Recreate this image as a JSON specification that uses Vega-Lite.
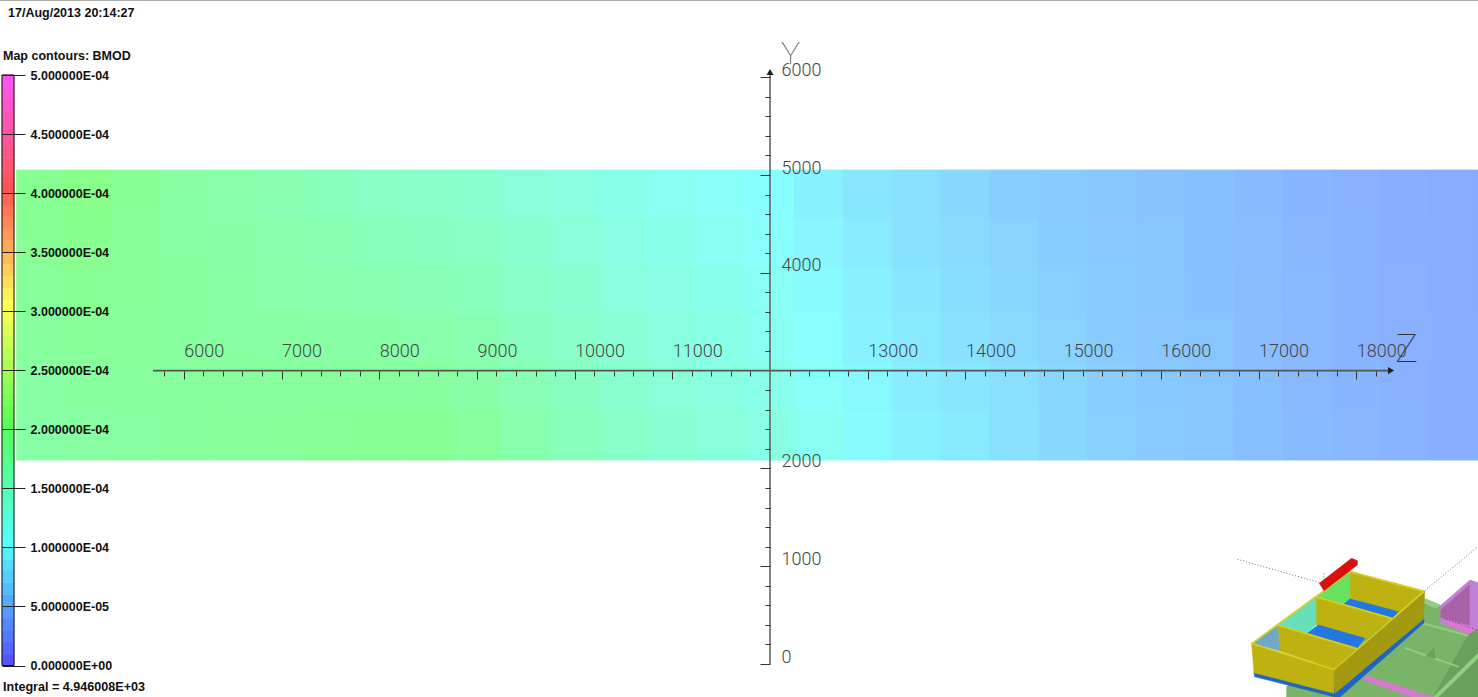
{"$schema":"https://vega.github.io/schema/vega-lite/v6.json","width":1478,"height":697,"padding":0,"autosize":{"type":"none"},"background":"white","config":{"view":{"stroke":null}},
"datasets":{"field":[
{"z":4290,"z2":4750,"y":5050,"y2":4557,"b":1.92e-4},{"z":4290,"z2":4750,"y":4557,"y2":4064,"b":1.89e-4},{"z":4290,"z2":4750,"y":4064,"y2":3571,"b":1.85e-4},{"z":4290,"z2":4750,"y":3571,"y2":3078,"b":1.82e-4},{"z":4290,"z2":4750,"y":3078,"y2":2585,"b":1.78e-4},{"z":4290,"z2":4750,"y":2585,"y2":2086,"b":1.75e-4},
{"z":4750,"z2":5250,"y":5050,"y2":4557,"b":1.98e-4},{"z":4750,"z2":5250,"y":4557,"y2":4064,"b":1.94e-4},{"z":4750,"z2":5250,"y":4064,"y2":3571,"b":1.90e-4},{"z":4750,"z2":5250,"y":3571,"y2":3078,"b":1.86e-4},{"z":4750,"z2":5250,"y":3078,"y2":2585,"b":1.82e-4},{"z":4750,"z2":5250,"y":2585,"y2":2086,"b":1.78e-4},
{"z":5250,"z2":5750,"y":5050,"y2":4557,"b":1.90e-4},{"z":5250,"z2":5750,"y":4557,"y2":4064,"b":1.88e-4},{"z":5250,"z2":5750,"y":4064,"y2":3571,"b":1.86e-4},{"z":5250,"z2":5750,"y":3571,"y2":3078,"b":1.84e-4},{"z":5250,"z2":5750,"y":3078,"y2":2585,"b":1.82e-4},{"z":5250,"z2":5750,"y":2585,"y2":2086,"b":1.80e-4},
{"z":5750,"z2":6250,"y":5050,"y2":4557,"b":1.80e-4},{"z":5750,"z2":6250,"y":4557,"y2":4064,"b":1.80e-4},{"z":5750,"z2":6250,"y":4064,"y2":3571,"b":1.81e-4},{"z":5750,"z2":6250,"y":3571,"y2":3078,"b":1.81e-4},{"z":5750,"z2":6250,"y":3078,"y2":2585,"b":1.82e-4},{"z":5750,"z2":6250,"y":2585,"y2":2086,"b":1.82e-4},
{"z":6250,"z2":6750,"y":5050,"y2":4557,"b":1.72e-4},{"z":6250,"z2":6750,"y":4557,"y2":4064,"b":1.74e-4},{"z":6250,"z2":6750,"y":4064,"y2":3571,"b":1.77e-4},{"z":6250,"z2":6750,"y":3571,"y2":3078,"b":1.79e-4},{"z":6250,"z2":6750,"y":3078,"y2":2585,"b":1.82e-4},{"z":6250,"z2":6750,"y":2585,"y2":2086,"b":1.84e-4},
{"z":6750,"z2":7250,"y":5050,"y2":4557,"b":1.65e-4},{"z":6750,"z2":7250,"y":4557,"y2":4064,"b":1.69e-4},{"z":6750,"z2":7250,"y":4064,"y2":3571,"b":1.73e-4},{"z":6750,"z2":7250,"y":3571,"y2":3078,"b":1.78e-4},{"z":6750,"z2":7250,"y":3078,"y2":2585,"b":1.82e-4},{"z":6750,"z2":7250,"y":2585,"y2":2086,"b":1.86e-4},
{"z":7250,"z2":7750,"y":5050,"y2":4557,"b":1.58e-4},{"z":7250,"z2":7750,"y":4557,"y2":4064,"b":1.64e-4},{"z":7250,"z2":7750,"y":4064,"y2":3571,"b":1.70e-4},{"z":7250,"z2":7750,"y":3571,"y2":3078,"b":1.76e-4},{"z":7250,"z2":7750,"y":3078,"y2":2585,"b":1.82e-4},{"z":7250,"z2":7750,"y":2585,"y2":2086,"b":1.88e-4},
{"z":7750,"z2":8250,"y":5050,"y2":4557,"b":1.50e-4},{"z":7750,"z2":8250,"y":4557,"y2":4064,"b":1.58e-4},{"z":7750,"z2":8250,"y":4064,"y2":3571,"b":1.66e-4},{"z":7750,"z2":8250,"y":3571,"y2":3078,"b":1.74e-4},{"z":7750,"z2":8250,"y":3078,"y2":2585,"b":1.82e-4},{"z":7750,"z2":8250,"y":2585,"y2":2086,"b":1.90e-4},
{"z":8250,"z2":8750,"y":5050,"y2":4557,"b":1.45e-4},{"z":8250,"z2":8750,"y":4557,"y2":4064,"b":1.54e-4},{"z":8250,"z2":8750,"y":4064,"y2":3571,"b":1.63e-4},{"z":8250,"z2":8750,"y":3571,"y2":3078,"b":1.72e-4},{"z":8250,"z2":8750,"y":3078,"y2":2585,"b":1.81e-4},{"z":8250,"z2":8750,"y":2585,"y2":2086,"b":1.90e-4},
{"z":8750,"z2":9250,"y":5050,"y2":4557,"b":1.40e-4},{"z":8750,"z2":9250,"y":4557,"y2":4064,"b":1.49e-4},{"z":8750,"z2":9250,"y":4064,"y2":3571,"b":1.57e-4},{"z":8750,"z2":9250,"y":3571,"y2":3078,"b":1.66e-4},{"z":8750,"z2":9250,"y":3078,"y2":2585,"b":1.74e-4},{"z":8750,"z2":9250,"y":2585,"y2":2086,"b":1.83e-4},
{"z":9250,"z2":9750,"y":5050,"y2":4557,"b":1.33e-4},{"z":9250,"z2":9750,"y":4557,"y2":4064,"b":1.40e-4},{"z":9250,"z2":9750,"y":4064,"y2":3571,"b":1.48e-4},{"z":9250,"z2":9750,"y":3571,"y2":3078,"b":1.55e-4},{"z":9250,"z2":9750,"y":3078,"y2":2585,"b":1.63e-4},{"z":9250,"z2":9750,"y":2585,"y2":2086,"b":1.70e-4},
{"z":9750,"z2":10250,"y":5050,"y2":4557,"b":1.27e-4},{"z":9750,"z2":10250,"y":4557,"y2":4064,"b":1.33e-4},{"z":9750,"z2":10250,"y":4064,"y2":3571,"b":1.39e-4},{"z":9750,"z2":10250,"y":3571,"y2":3078,"b":1.46e-4},{"z":9750,"z2":10250,"y":3078,"y2":2585,"b":1.52e-4},{"z":9750,"z2":10250,"y":2585,"y2":2086,"b":1.58e-4},
{"z":10250,"z2":10750,"y":5050,"y2":4557,"b":1.17e-4},{"z":10250,"z2":10750,"y":4557,"y2":4064,"b":1.23e-4},{"z":10250,"z2":10750,"y":4064,"y2":3571,"b":1.29e-4},{"z":10250,"z2":10750,"y":3571,"y2":3078,"b":1.35e-4},{"z":10250,"z2":10750,"y":3078,"y2":2585,"b":1.41e-4},{"z":10250,"z2":10750,"y":2585,"y2":2086,"b":1.47e-4},
{"z":10750,"z2":11250,"y":5050,"y2":4557,"b":1.12e-4},{"z":10750,"z2":11250,"y":4557,"y2":4064,"b":1.17e-4},{"z":10750,"z2":11250,"y":4064,"y2":3571,"b":1.22e-4},{"z":10750,"z2":11250,"y":3571,"y2":3078,"b":1.28e-4},{"z":10750,"z2":11250,"y":3078,"y2":2585,"b":1.33e-4},{"z":10750,"z2":11250,"y":2585,"y2":2086,"b":1.38e-4},
{"z":11250,"z2":11750,"y":5050,"y2":4557,"b":1.06e-4},{"z":11250,"z2":11750,"y":4557,"y2":4064,"b":1.11e-4},{"z":11250,"z2":11750,"y":4064,"y2":3571,"b":1.16e-4},{"z":11250,"z2":11750,"y":3571,"y2":3078,"b":1.20e-4},{"z":11250,"z2":11750,"y":3078,"y2":2585,"b":1.25e-4},{"z":11250,"z2":11750,"y":2585,"y2":2086,"b":1.30e-4},
{"z":11750,"z2":12250,"y":5050,"y2":4557,"b":1.00e-4},{"z":11750,"z2":12250,"y":4557,"y2":4064,"b":1.04e-4},{"z":11750,"z2":12250,"y":4064,"y2":3571,"b":1.09e-4},{"z":11750,"z2":12250,"y":3571,"y2":3078,"b":1.13e-4},{"z":11750,"z2":12250,"y":3078,"y2":2585,"b":1.18e-4},{"z":11750,"z2":12250,"y":2585,"y2":2086,"b":1.22e-4},
{"z":12250,"z2":12750,"y":5050,"y2":4557,"b":0.88e-4},{"z":12250,"z2":12750,"y":4557,"y2":4064,"b":0.92e-4},{"z":12250,"z2":12750,"y":4064,"y2":3571,"b":0.97e-4},{"z":12250,"z2":12750,"y":3571,"y2":3078,"b":1.01e-4},{"z":12250,"z2":12750,"y":3078,"y2":2585,"b":1.06e-4},{"z":12250,"z2":12750,"y":2585,"y2":2086,"b":1.10e-4},
{"z":12750,"z2":13250,"y":5050,"y2":4557,"b":0.80e-4},{"z":12750,"z2":13250,"y":4557,"y2":4064,"b":0.83e-4},{"z":12750,"z2":13250,"y":4064,"y2":3571,"b":0.87e-4},{"z":12750,"z2":13250,"y":3571,"y2":3078,"b":0.90e-4},{"z":12750,"z2":13250,"y":3078,"y2":2585,"b":0.94e-4},{"z":12750,"z2":13250,"y":2585,"y2":2086,"b":0.97e-4},
{"z":13250,"z2":13750,"y":5050,"y2":4557,"b":0.73e-4},{"z":13250,"z2":13750,"y":4557,"y2":4064,"b":0.76e-4},{"z":13250,"z2":13750,"y":4064,"y2":3571,"b":0.79e-4},{"z":13250,"z2":13750,"y":3571,"y2":3078,"b":0.82e-4},{"z":13250,"z2":13750,"y":3078,"y2":2585,"b":0.85e-4},{"z":13250,"z2":13750,"y":2585,"y2":2086,"b":0.88e-4},
{"z":13750,"z2":14250,"y":5050,"y2":4557,"b":0.66e-4},{"z":13750,"z2":14250,"y":4557,"y2":4064,"b":0.69e-4},{"z":13750,"z2":14250,"y":4064,"y2":3571,"b":0.72e-4},{"z":13750,"z2":14250,"y":3571,"y2":3078,"b":0.76e-4},{"z":13750,"z2":14250,"y":3078,"y2":2585,"b":0.79e-4},{"z":13750,"z2":14250,"y":2585,"y2":2086,"b":0.82e-4},
{"z":14250,"z2":14750,"y":5050,"y2":4557,"b":0.60e-4},{"z":14250,"z2":14750,"y":4557,"y2":4064,"b":0.63e-4},{"z":14250,"z2":14750,"y":4064,"y2":3571,"b":0.66e-4},{"z":14250,"z2":14750,"y":3571,"y2":3078,"b":0.70e-4},{"z":14250,"z2":14750,"y":3078,"y2":2585,"b":0.73e-4},{"z":14250,"z2":14750,"y":2585,"y2":2086,"b":0.76e-4},
{"z":14750,"z2":15250,"y":5050,"y2":4557,"b":0.56e-4},{"z":14750,"z2":15250,"y":4557,"y2":4064,"b":0.58e-4},{"z":14750,"z2":15250,"y":4064,"y2":3571,"b":0.61e-4},{"z":14750,"z2":15250,"y":3571,"y2":3078,"b":0.63e-4},{"z":14750,"z2":15250,"y":3078,"y2":2585,"b":0.66e-4},{"z":14750,"z2":15250,"y":2585,"y2":2086,"b":0.68e-4},
{"z":15250,"z2":15750,"y":5050,"y2":4557,"b":0.52e-4},{"z":15250,"z2":15750,"y":4557,"y2":4064,"b":0.54e-4},{"z":15250,"z2":15750,"y":4064,"y2":3571,"b":0.56e-4},{"z":15250,"z2":15750,"y":3571,"y2":3078,"b":0.57e-4},{"z":15250,"z2":15750,"y":3078,"y2":2585,"b":0.59e-4},{"z":15250,"z2":15750,"y":2585,"y2":2086,"b":0.61e-4},
{"z":15750,"z2":16250,"y":5050,"y2":4557,"b":0.49e-4},{"z":15750,"z2":16250,"y":4557,"y2":4064,"b":0.50e-4},{"z":15750,"z2":16250,"y":4064,"y2":3571,"b":0.52e-4},{"z":15750,"z2":16250,"y":3571,"y2":3078,"b":0.53e-4},{"z":15750,"z2":16250,"y":3078,"y2":2585,"b":0.55e-4},{"z":15750,"z2":16250,"y":2585,"y2":2086,"b":0.56e-4},
{"z":16250,"z2":16750,"y":5050,"y2":4557,"b":0.46e-4},{"z":16250,"z2":16750,"y":4557,"y2":4064,"b":0.47e-4},{"z":16250,"z2":16750,"y":4064,"y2":3571,"b":0.48e-4},{"z":16250,"z2":16750,"y":3571,"y2":3078,"b":0.50e-4},{"z":16250,"z2":16750,"y":3078,"y2":2585,"b":0.51e-4},{"z":16250,"z2":16750,"y":2585,"y2":2086,"b":0.52e-4},
{"z":16750,"z2":17250,"y":5050,"y2":4557,"b":0.42e-4},{"z":16750,"z2":17250,"y":4557,"y2":4064,"b":0.43e-4},{"z":16750,"z2":17250,"y":4064,"y2":3571,"b":0.44e-4},{"z":16750,"z2":17250,"y":3571,"y2":3078,"b":0.45e-4},{"z":16750,"z2":17250,"y":3078,"y2":2585,"b":0.46e-4},{"z":16750,"z2":17250,"y":2585,"y2":2086,"b":0.47e-4},
{"z":17250,"z2":17750,"y":5050,"y2":4557,"b":0.38e-4},{"z":17250,"z2":17750,"y":4557,"y2":4064,"b":0.39e-4},{"z":17250,"z2":17750,"y":4064,"y2":3571,"b":0.40e-4},{"z":17250,"z2":17750,"y":3571,"y2":3078,"b":0.40e-4},{"z":17250,"z2":17750,"y":3078,"y2":2585,"b":0.41e-4},{"z":17250,"z2":17750,"y":2585,"y2":2086,"b":0.42e-4},
{"z":17750,"z2":18250,"y":5050,"y2":4557,"b":0.35e-4},{"z":17750,"z2":18250,"y":4557,"y2":4064,"b":0.36e-4},{"z":17750,"z2":18250,"y":4064,"y2":3571,"b":0.37e-4},{"z":17750,"z2":18250,"y":3571,"y2":3078,"b":0.37e-4},{"z":17750,"z2":18250,"y":3078,"y2":2585,"b":0.38e-4},{"z":17750,"z2":18250,"y":2585,"y2":2086,"b":0.39e-4},
{"z":18250,"z2":18750,"y":5050,"y2":4557,"b":0.32e-4},{"z":18250,"z2":18750,"y":4557,"y2":4064,"b":0.33e-4},{"z":18250,"z2":18750,"y":4064,"y2":3571,"b":0.34e-4},{"z":18250,"z2":18750,"y":3571,"y2":3078,"b":0.34e-4},{"z":18250,"z2":18750,"y":3078,"y2":2585,"b":0.35e-4},{"z":18250,"z2":18750,"y":2585,"y2":2086,"b":0.36e-4},
{"z":18750,"z2":19250,"y":5050,"y2":4557,"b":0.30e-4},{"z":18750,"z2":19250,"y":4557,"y2":4064,"b":0.31e-4},{"z":18750,"z2":19250,"y":4064,"y2":3571,"b":0.31e-4},{"z":18750,"z2":19250,"y":3571,"y2":3078,"b":0.32e-4},{"z":18750,"z2":19250,"y":3078,"y2":2585,"b":0.32e-4},{"z":18750,"z2":19250,"y":2585,"y2":2086,"b":0.33e-4}
],
"strips":[
{"b":0e-5,"b2":1e-5},{"b":1e-5,"b2":2e-5},{"b":2e-5,"b2":3e-5},{"b":3e-5,"b2":4e-5},{"b":4e-5,"b2":5e-5},{"b":5e-5,"b2":6e-5},{"b":6e-5,"b2":7e-5},{"b":7e-5,"b2":8e-5},{"b":8e-5,"b2":9e-5},{"b":9e-5,"b2":10e-5},
{"b":10e-5,"b2":11e-5},{"b":11e-5,"b2":12e-5},{"b":12e-5,"b2":13e-5},{"b":13e-5,"b2":14e-5},{"b":14e-5,"b2":15e-5},{"b":15e-5,"b2":16e-5},{"b":16e-5,"b2":17e-5},{"b":17e-5,"b2":18e-5},{"b":18e-5,"b2":19e-5},{"b":19e-5,"b2":20e-5},
{"b":20e-5,"b2":21e-5},{"b":21e-5,"b2":22e-5},{"b":22e-5,"b2":23e-5},{"b":23e-5,"b2":24e-5},{"b":24e-5,"b2":25e-5},{"b":25e-5,"b2":26e-5},{"b":26e-5,"b2":27e-5},{"b":27e-5,"b2":28e-5},{"b":28e-5,"b2":29e-5},{"b":29e-5,"b2":30e-5},
{"b":30e-5,"b2":31e-5},{"b":31e-5,"b2":32e-5},{"b":32e-5,"b2":33e-5},{"b":33e-5,"b2":34e-5},{"b":34e-5,"b2":35e-5},{"b":35e-5,"b2":36e-5},{"b":36e-5,"b2":37e-5},{"b":37e-5,"b2":38e-5},{"b":38e-5,"b2":39e-5},{"b":39e-5,"b2":40e-5},
{"b":40e-5,"b2":41e-5},{"b":41e-5,"b2":42e-5},{"b":42e-5,"b2":43e-5},{"b":43e-5,"b2":44e-5},{"b":44e-5,"b2":45e-5},{"b":45e-5,"b2":46e-5},{"b":46e-5,"b2":47e-5},{"b":47e-5,"b2":48e-5},{"b":48e-5,"b2":49e-5},{"b":49e-5,"b2":50e-5}
],
"thumb":[
{"f":"A","k":"pink","x":660,"y":228},{"f":"A","k":"pink","x":750,"y":150},{"f":"A","k":"pink","x":774,"y":158},{"f":"A","k":"pink","x":774,"y":300},{"f":"A","k":"pink","x":745,"y":315},{"f":"A","k":"pink","x":660,"y":280},{"f":"A","k":"pink","x":660,"y":228},
{"f":"B","k":"purple","x":662,"y":240},{"f":"B","k":"purple","x":748,"y":165},{"f":"B","k":"purple","x":748,"y":285},{"f":"B","k":"purple","x":700,"y":275},{"f":"B","k":"purple","x":662,"y":262},{"f":"B","k":"purple","x":662,"y":240},
{"f":"B2","k":"pinkfloor","x":680,"y":268},{"f":"B2","k":"pinkfloor","x":748,"y":290},{"f":"B2","k":"pinkfloor","x":774,"y":296},{"f":"B2","k":"pinkfloor","x":745,"y":315},{"f":"B2","k":"pinkfloor","x":690,"y":295},{"f":"B2","k":"pinkfloor","x":680,"y":268},
{"f":"C","k":"green","x":200,"y":470},{"f":"C","k":"green","x":610,"y":205},{"f":"C","k":"green","x":660,"y":225},{"f":"C","k":"green","x":660,"y":280},{"f":"C","k":"green","x":745,"y":315},{"f":"C","k":"green","x":745,"y":380},{"f":"C","k":"green","x":640,"y":501},{"f":"C","k":"green","x":200,"y":501},{"f":"C","k":"green","x":200,"y":470},
{"f":"C2","k":"greendark","x":745,"y":315},{"f":"C2","k":"greendark","x":774,"y":298},{"f":"C2","k":"greendark","x":774,"y":501},{"f":"C2","k":"greendark","x":640,"y":501},{"f":"C2","k":"greendark","x":745,"y":315},
{"f":"C3","k":"greenlight","x":640,"y":501},{"f":"C3","k":"greenlight","x":774,"y":370},{"f":"C3","k":"greenlight","x":774,"y":385},{"f":"C3","k":"greenlight","x":655,"y":501},{"f":"C3","k":"greenlight","x":640,"y":501},
{"f":"C4","k":"greenlight","x":612,"y":205},{"f":"C4","k":"greenlight","x":660,"y":225},{"f":"C4","k":"greenlight","x":650,"y":235},{"f":"C4","k":"greenlight","x":612,"y":220},{"f":"C4","k":"greenlight","x":612,"y":205},
{"f":"C5","k":"greenlight","x":610,"y":278},{"f":"C5","k":"greenlight","x":745,"y":315},{"f":"C5","k":"greenlight","x":745,"y":319},{"f":"C5","k":"greenlight","x":608,"y":282},{"f":"C5","k":"greenlight","x":610,"y":278},
{"f":"C6","k":"greenlight","x":555,"y":352},{"f":"C6","k":"greenlight","x":715,"y":408},{"f":"C6","k":"greenlight","x":715,"y":412},{"f":"C6","k":"greenlight","x":555,"y":356},{"f":"C6","k":"greenlight","x":555,"y":352},
{"f":"C7","k":"greendark","x":618,"y":378},{"f":"C7","k":"greendark","x":642,"y":354},{"f":"C7","k":"greendark","x":645,"y":386},{"f":"C7","k":"greendark","x":618,"y":378},
{"f":"E","k":"pinkfloor","x":440,"y":437},{"f":"E","k":"pinkfloor","x":428,"y":450},{"f":"E","k":"pinkfloor","x":580,"y":501},{"f":"E","k":"pinkfloor","x":640,"y":501},{"f":"E","k":"pinkfloor","x":440,"y":437},
{"f":"F","k":"base","x":102,"y":427},{"f":"F","k":"base","x":104,"y":440},{"f":"F","k":"base","x":345,"y":501},{"f":"F","k":"base","x":360,"y":501},{"f":"F","k":"base","x":612,"y":278},{"f":"F","k":"base","x":612,"y":265},{"f":"F","k":"base","x":345,"y":470},{"f":"F","k":"base","x":102,"y":427},
{"f":"I","k":"yellow","x":390,"y":125},{"f":"I","k":"yellow","x":612,"y":183},{"f":"I","k":"yellow","x":535,"y":250},{"f":"I","k":"yellow","x":390,"y":205},{"f":"I","k":"yellow","x":390,"y":125},
{"f":"J","k":"floor","x":385,"y":205},{"f":"J","k":"floor","x":535,"y":245},{"f":"J","k":"floor","x":520,"y":265},{"f":"J","k":"floor","x":370,"y":222},{"f":"J","k":"floor","x":385,"y":205},
{"f":"K","k":"wallgreen","x":290,"y":200},{"f":"K","k":"wallgreen","x":390,"y":125},{"f":"K","k":"wallgreen","x":390,"y":205},{"f":"K","k":"wallgreen","x":370,"y":222},{"f":"K","k":"wallgreen","x":290,"y":200},
{"f":"L","k":"yellow","x":288,"y":200},{"f":"L","k":"yellow","x":515,"y":265},{"f":"L","k":"yellow","x":435,"y":330},{"f":"L","k":"yellow","x":288,"y":285},{"f":"L","k":"yellow","x":288,"y":200},
{"f":"M","k":"floor","x":295,"y":285},{"f":"M","k":"floor","x":435,"y":325},{"f":"M","k":"floor","x":410,"y":355},{"f":"M","k":"floor","x":260,"y":310},{"f":"M","k":"floor","x":295,"y":285},
{"f":"N","k":"wallteal","x":173,"y":285},{"f":"N","k":"wallteal","x":288,"y":200},{"f":"N","k":"wallteal","x":288,"y":285},{"f":"N","k":"wallteal","x":260,"y":310},{"f":"N","k":"wallteal","x":178,"y":362},{"f":"N","k":"wallteal","x":173,"y":285},
{"f":"O","k":"yellow","x":173,"y":285},{"f":"O","k":"yellow","x":410,"y":355},{"f":"O","k":"yellow","x":342,"y":418},{"f":"O","k":"yellow","x":178,"y":362},{"f":"O","k":"yellow","x":173,"y":285},
{"f":"P","k":"wallblue","x":97,"y":340},{"f":"P","k":"wallblue","x":173,"y":285},{"f":"P","k":"wallblue","x":178,"y":362},{"f":"P","k":"wallblue","x":97,"y":340},
{"f":"G","k":"yellow","x":95,"y":340},{"f":"G","k":"yellow","x":342,"y":418},{"f":"G","k":"yellow","x":342,"y":490},{"f":"G","k":"yellow","x":102,"y":428},{"f":"G","k":"yellow","x":95,"y":340},
{"f":"H","k":"yellowdark","x":342,"y":418},{"f":"H","k":"yellowdark","x":614,"y":183},{"f":"H","k":"yellowdark","x":610,"y":268},{"f":"H","k":"yellowdark","x":345,"y":490},{"f":"H","k":"yellowdark","x":342,"y":418},
{"f":"R1","k":"rim","x":95,"y":339},{"f":"R1","k":"rim","x":342,"y":417},{"f":"R1","k":"rim","x":342,"y":420},{"f":"R1","k":"rim","x":95,"y":342},{"f":"R1","k":"rim","x":95,"y":339},
{"f":"R2","k":"rim","x":342,"y":417},{"f":"R2","k":"rim","x":612,"y":182},{"f":"R2","k":"rim","x":614,"y":185},{"f":"R2","k":"rim","x":342,"y":420},{"f":"R2","k":"rim","x":342,"y":417},
{"f":"R3","k":"rim","x":95,"y":339},{"f":"R3","k":"rim","x":390,"y":123},{"f":"R3","k":"rim","x":392,"y":126},{"f":"R3","k":"rim","x":97,"y":342},{"f":"R3","k":"rim","x":95,"y":339},
{"f":"R4","k":"rim","x":173,"y":284},{"f":"R4","k":"rim","x":410,"y":354},{"f":"R4","k":"rim","x":408,"y":357},{"f":"R4","k":"rim","x":173,"y":287},{"f":"R4","k":"rim","x":173,"y":284},
{"f":"R5","k":"rim","x":288,"y":199},{"f":"R5","k":"rim","x":517,"y":264},{"f":"R5","k":"rim","x":515,"y":267},{"f":"R5","k":"rim","x":288,"y":202},{"f":"R5","k":"rim","x":288,"y":199},
{"f":"R6","k":"rim","x":390,"y":123},{"f":"R6","k":"rim","x":614,"y":183},{"f":"R6","k":"rim","x":612,"y":186},{"f":"R6","k":"rim","x":390,"y":126},{"f":"R6","k":"rim","x":390,"y":123},
{"f":"S","k":"red","x":298,"y":160},{"f":"S","k":"red","x":395,"y":85},{"f":"S","k":"red","x":412,"y":92},{"f":"S","k":"red","x":412,"y":105},{"f":"S","k":"red","x":312,"y":182},{"f":"S","k":"red","x":298,"y":160}
],
"dots":[
{"f":"a","x":52,"y":88},{"f":"a","x":300,"y":158},
{"f":"b","x":614,"y":182},{"f":"b","x":774,"y":50},
{"f":"c","x":680,"y":268},{"f":"c","x":770,"y":300},
{"f":"d","x":312,"y":130},{"f":"d","x":312,"y":160}
]},
"resolve":{"scale":{"x":"independent","y":"independent","fill":"independent","stroke":"independent"},"axis":{"x":"independent","y":"independent"}},
"layer":[
{"data":{"name":"field"},"mark":{"type":"rect","strokeWidth":1},"encoding":{
"x":{"field":"z","type":"quantitative","scale":{"domain":[4118.7,19246]},"axis":null},"x2":{"field":"z2"},
"y":{"field":"y","type":"quantitative","scale":{"domain":[-337.4,6789.4]},"axis":null},"y2":{"field":"y2"},
"fill":{"field":"b","type":"quantitative","legend":null,"scale":{"interpolate":"rgb","domain":[0,1e-4,2e-4],"range":["#8888ff","#88ffff","#88ff88"]}},
"stroke":{"field":"b","type":"quantitative","legend":null,"scale":{"interpolate":"rgb","domain":[0,1e-4,2e-4],"range":["#8888ff","#88ffff","#88ff88"]}}}},
{"data":{"values":[{"z":5685,"z2":18346,"y":3000}]},"mark":{"type":"rule","stroke":"#555555","strokeWidth":1.6},"encoding":{
"x":{"field":"z","type":"quantitative","scale":{"domain":[4118.7,19246]},"axis":{"orient":"bottom","offset":-326,"zindex":1,"title":null,"domain":false,"grid":false,"labels":false,"tickSize":5,"tickColor":"#333333","values":[5800,6200,6400,6600,6800,7200,7400,7600,7800,8200,8400,8600,8800,9200,9400,9600,9800,10200,10400,10600,10800,11200,11400,11600,11800,12200,12400,12600,12800,13200,13400,13600,13800,14200,14400,14600,14800,15200,15400,15600,15800,16200,16400,16600,16800,17200,17400,17600,17800,18200]}},"x2":{"field":"z2"},
"y":{"field":"y","type":"quantitative","scale":{"domain":[-337.4,6789.4]},"axis":null}}},
{"data":{"values":[{"z":18356,"y":3000}]},"mark":{"type":"point","shape":"triangle-right","filled":true,"fill":"#222222","size":50,"opacity":1},"encoding":{
"x":{"field":"z","type":"quantitative","scale":{"domain":[4118.7,19246]},"axis":{"orient":"bottom","offset":-326,"zindex":1,"title":"Z","titleFont":"Roboto","titleFontWeight":100,"titleFontSize":38,"titleColor":"#333333","titleX":1406,"titleY":-10,"titleAlign":"center","titleBaseline":"alphabetic","domain":false,"grid":false,"tickSize":8,"tickColor":"#333333","values":[6000,7000,8000,9000,10000,11000,13000,14000,15000,16000,17000,18000],"format":"d","labelFont":"Roboto","labelFontWeight":300,"labelFontSize":18,"labelColor":"#444444","labelAlign":"left","labelBaseline":"middle","labelPadding":-28,"labelOverlap":false,"labelFlush":false,"labelBound":false}},
"y":{"field":"y","type":"quantitative","scale":{"domain":[-337.4,6789.4]},"axis":null}}},
{"data":{"values":[{"z":12000,"y":0,"y2":6053}]},"mark":{"type":"rule","stroke":"#666666","strokeWidth":1.6},"encoding":{
"x":{"field":"z","type":"quantitative","scale":{"domain":[4118.7,19246]},"axis":null},
"y":{"field":"y","type":"quantitative","scale":{"domain":[-337.4,6789.4]},"axis":{"orient":"left","offset":-770,"zindex":1,"title":null,"domain":false,"grid":false,"labels":false,"tickSize":5,"tickColor":"#333333","values":[200,400,600,800,1200,1400,1600,1800,2200,2400,2600,2800,3200,3400,3600,3800,4200,4400,4600,4800,5200,5400,5600,5800]}},"y2":{"field":"y2"}}},
{"data":{"values":[{"z":12000,"y":6053}]},"mark":{"type":"point","shape":"triangle-up","filled":true,"fill":"#222222","size":50,"opacity":1},"encoding":{
"x":{"field":"z","type":"quantitative","scale":{"domain":[4118.7,19246]},"axis":null},
"y":{"field":"y","type":"quantitative","scale":{"domain":[-337.4,6789.4]},"axis":{"orient":"left","offset":-770,"zindex":1,"title":"Y","titleFont":"Roboto","titleFontWeight":100,"titleFontSize":32,"titleColor":"#555555","titleX":20,"titleY":63,"titleAngle":0,"titleAlign":"center","titleBaseline":"alphabetic","domain":false,"grid":false,"tickSize":10,"tickColor":"#333333","values":[0,1000,2000,4000,5000,6000],"format":"d","labelFont":"Roboto","labelFontWeight":300,"labelFontSize":18,"labelColor":"#444444","labelAlign":"left","labelBaseline":"middle","labelPadding":-21,"labelOffset":-7,"labelOverlap":false,"labelFlush":false,"labelBound":false}}}},
{"data":{"name":"strips"},"mark":{"type":"rect","strokeWidth":0.6},"encoding":{
"x":{"datum":0,"type":"quantitative","scale":{"domain":[0,1],"range":[2,14]},"axis":null},"x2":{"datum":1},
"y":{"field":"b","type":"quantitative","scale":{"domain":[0,5e-4],"range":[665.5,75]},"axis":null},"y2":{"field":"b2"},
"fill":{"field":"b","type":"quantitative","legend":null,"scale":{"interpolate":"rgb","domain":[0,1e-4,2e-4,3e-4,4e-4,5e-4],"range":["#5555ff","#55ffff","#55ff55","#ffff55","#ff5555","#ff55ff"]}},
"stroke":{"field":"b","type":"quantitative","legend":null,"scale":{"interpolate":"rgb","domain":[0,1e-4,2e-4,3e-4,4e-4,5e-4],"range":["#5555ff","#55ffff","#55ff55","#ffff55","#ff5555","#ff55ff"]}}}},
{"data":{"values":[{"b":0,"b2":5e-4}]},"mark":{"type":"rect","fill":null,"fillOpacity":0,"stroke":"#111111","strokeWidth":1},"encoding":{
"x":{"datum":0,"type":"quantitative","scale":{"domain":[0,1],"range":[2,14]},"axis":null},"x2":{"datum":1},
"y":{"field":"b","type":"quantitative","scale":{"domain":[0,5e-4],"range":[665.5,75]},"axis":{"orient":"left","offset":-25,"zindex":1,"title":null,"domain":false,"grid":false,"tickSize":23,"tickColor":"#222222","values":[0,5e-5,1e-4,1.5e-4,2e-4,2.5e-4,3e-4,3.5e-4,4e-4,4.5e-4,5e-4],"labelExpr":"replace(replace(format(datum.value,'.6e'),'e-','E-0'),'e+','E+0')","labelFont":"Liberation Sans","labelFontWeight":"bold","labelFontSize":12.5,"labelColor":"#111111","labelAlign":"left","labelBaseline":"middle","labelPadding":-28,"labelOverlap":false,"labelFlush":false,"labelBound":false}},"y2":{"field":"b2"}}},
{"data":{"values":[{"t":"17/Aug/2013 20:14:27"}]},"mark":{"type":"text","align":"left","baseline":"alphabetic","font":"Liberation Sans","fontWeight":"bold","fontSize":12.5,"fill":"#111111"},"encoding":{"text":{"field":"t"},
"x":{"datum":8,"type":"quantitative","scale":{"domain":[0,1478],"range":[0,1478]},"axis":null},"y":{"datum":17,"type":"quantitative","scale":{"domain":[0,697],"range":[0,697]},"axis":null}}},
{"data":{"values":[{"t":"Map contours: BMOD"}]},"mark":{"type":"text","align":"left","baseline":"alphabetic","font":"Liberation Sans","fontWeight":"bold","fontSize":12.5,"fill":"#111111"},"encoding":{"text":{"field":"t"},
"x":{"datum":3,"type":"quantitative","scale":{"domain":[0,1478],"range":[0,1478]},"axis":null},"y":{"datum":60,"type":"quantitative","scale":{"domain":[0,697],"range":[0,697]},"axis":null}}},
{"data":{"values":[{"t":"Integral = 4.946008E+03"}]},"mark":{"type":"text","align":"left","baseline":"alphabetic","font":"Liberation Sans","fontWeight":"bold","fontSize":12.6,"fill":"#111111"},"encoding":{"text":{"field":"t"},
"x":{"datum":3,"type":"quantitative","scale":{"domain":[0,1478],"range":[0,1478]},"axis":null},"y":{"datum":691,"type":"quantitative","scale":{"domain":[0,697],"range":[0,697]},"axis":null}}},
{"data":{"values":[{"s":0}]},"mark":{"type":"rule","stroke":"#aaaaaa","strokeWidth":1},"encoding":{
"x":{"datum":0,"type":"quantitative","scale":{"domain":[0,1478],"range":[0,1478]},"axis":null},"x2":{"datum":1478},"y":{"datum":0.5,"type":"quantitative","scale":{"domain":[0,697],"range":[0,697]},"axis":null}}},
{"data":{"name":"thumb"},"mark":{"type":"line","filled":true,"strokeWidth":0.6,"interpolate":"linear"},"encoding":{
"x":{"field":"x","type":"quantitative","scale":{"domain":[0,774],"range":[1220,1478]},"axis":null},
"y":{"field":"y","type":"quantitative","scale":{"domain":[0,501],"range":[530,697]},"axis":null},
"detail":{"field":"f"},"order":{"value":null},
"fill":{"field":"k","type":"nominal","legend":null,"scale":{"domain":["pink","purple","pinkfloor","green","greendark","greenlight","base","yellow","yellowdark","floor","wallgreen","wallteal","wallblue","rim","red"],"range":["#c27fd6","#a862a8","#d878d2","#7ab468","#69a05a","#8fd080","#1e64c8","#bdb210","#a39a12","#2277e0","#68e060","#66e0b8","#70a8c8","#d8d020","#d81010"]}},
"stroke":{"field":"k","type":"nominal","legend":null,"scale":{"domain":["pink","purple","pinkfloor","green","greendark","greenlight","base","yellow","yellowdark","floor","wallgreen","wallteal","wallblue","rim","red"],"range":["#c27fd6","#a862a8","#d878d2","#7ab468","#69a05a","#8fd080","#1e64c8","#bdb210","#a39a12","#2277e0","#68e060","#66e0b8","#70a8c8","#d8d020","#d81010"]}}}},
{"data":{"name":"dots"},"mark":{"type":"line","stroke":"#333333","strokeWidth":0.7,"strokeDash":[1,2]},"encoding":{
"x":{"field":"x","type":"quantitative","scale":{"domain":[0,774],"range":[1220,1478]},"axis":null},
"y":{"field":"y","type":"quantitative","scale":{"domain":[0,501],"range":[530,697]},"axis":null},
"detail":{"field":"f"},"order":{"value":null}}}
]}
